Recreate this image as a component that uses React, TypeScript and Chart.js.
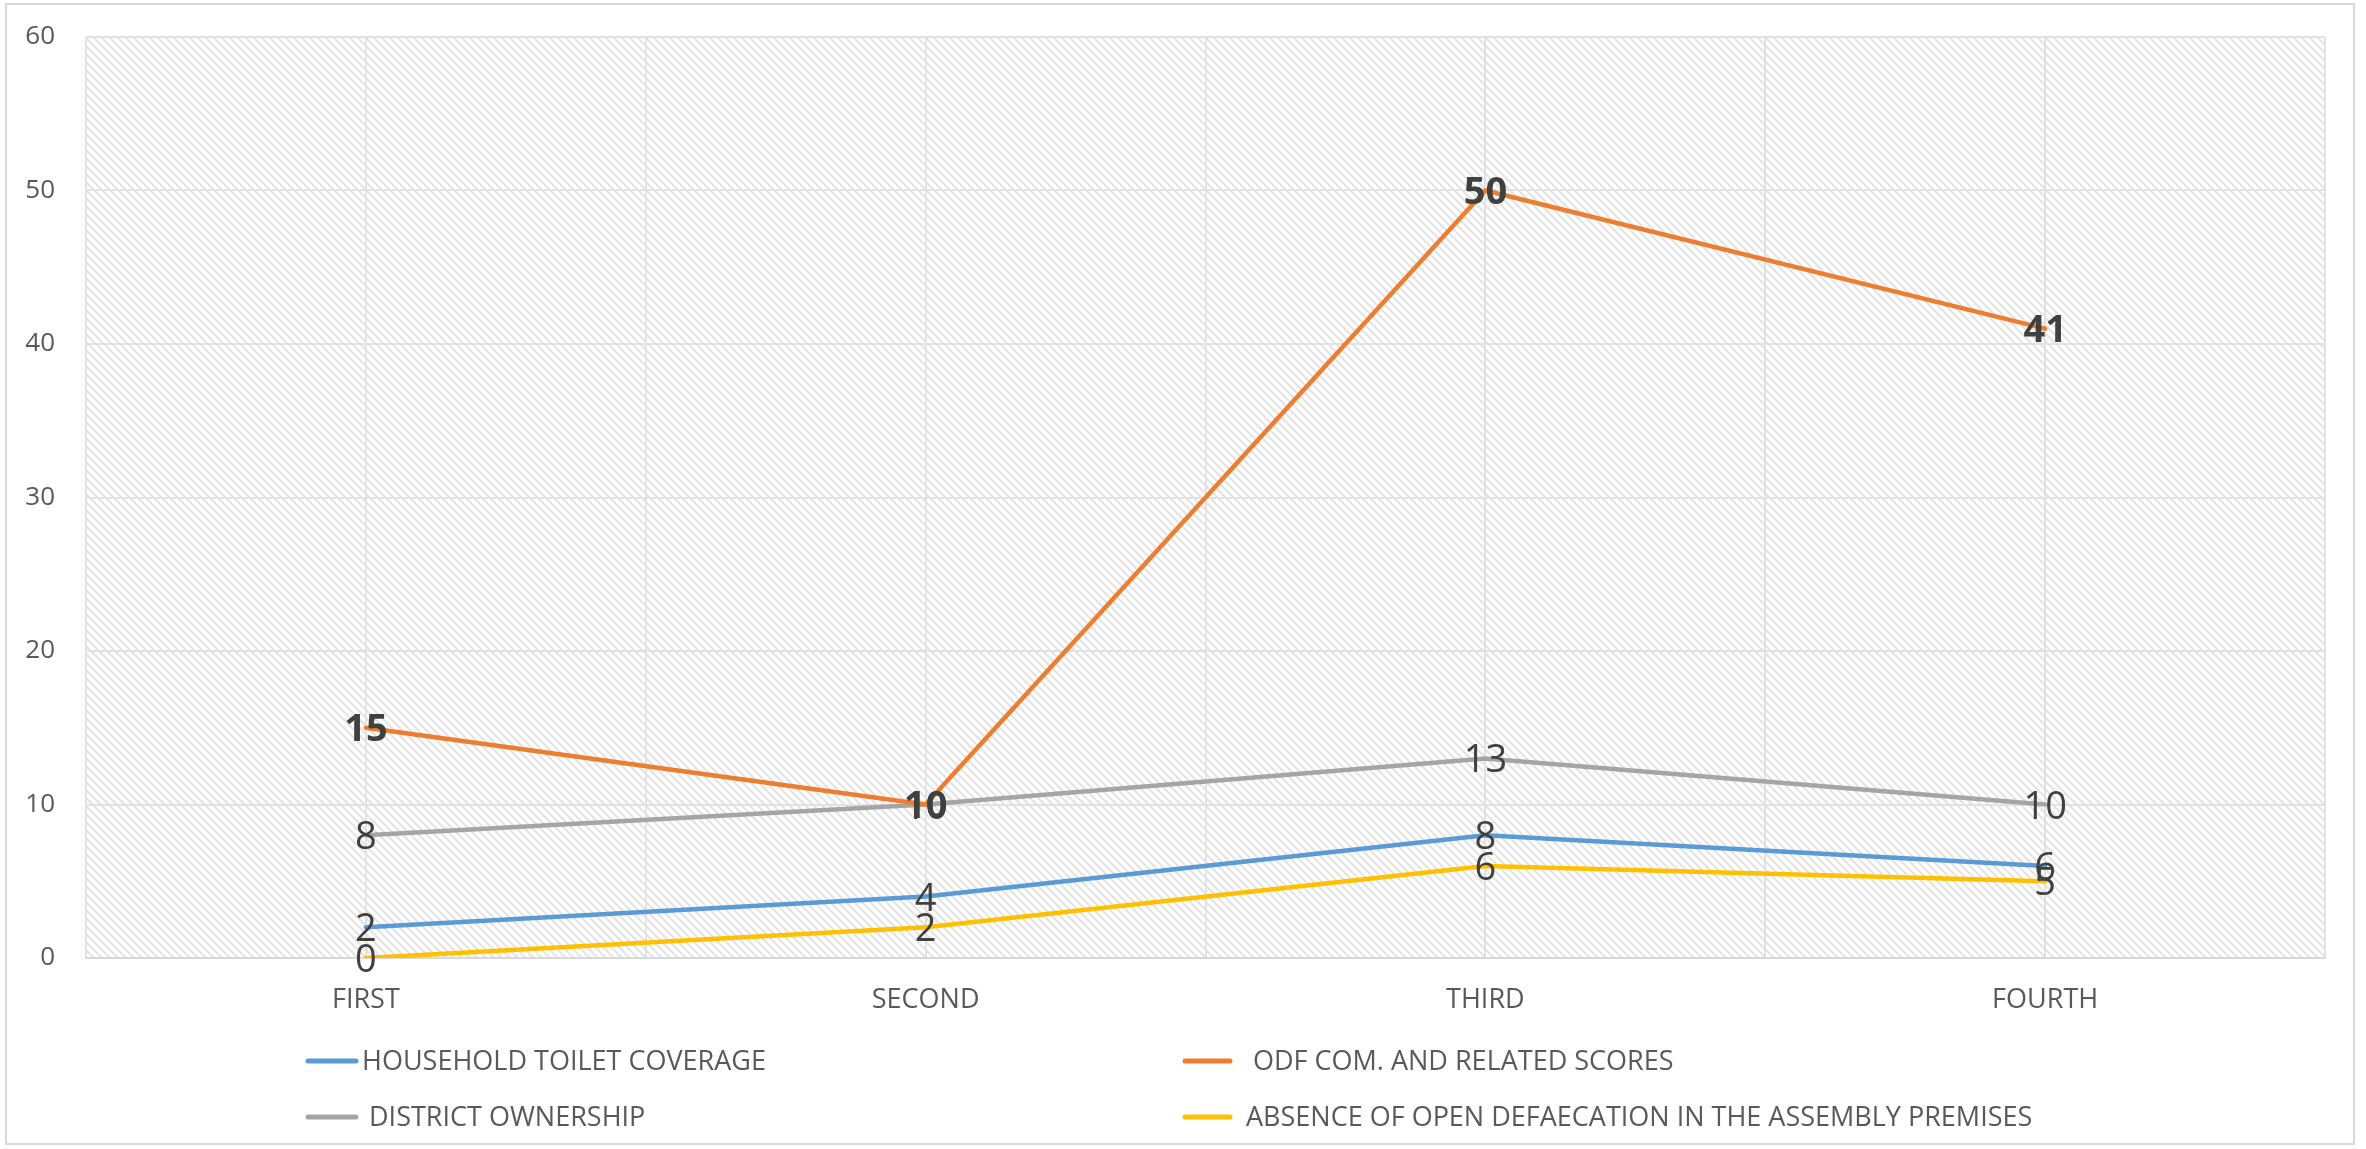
import React, { useEffect, useRef } from 'react';
import { Chart, registerables } from 'chart.js';

Chart.register(...registerables);

// ---- data ----
const CATEGORIES = ['FIRST', 'SECOND', 'THIRD', 'FOURTH'];
const HOUSEHOLD_TOILET = [2, 4, 8, 6];
const ODF_SCORES = [15, 10, 50, 41];
const DISTRICT_OWNERSHIP = [8, 10, 13, 10];
const ABSENCE_OPEN_DEF = [0, 2, 6, 5];
const SERIES_NAMES = [
  'HOUSEHOLD TOILET COVERAGE',
  ' ODF COM. AND RELATED SCORES',
  ' DISTRICT OWNERSHIP',
  'ABSENCE OF OPEN DEFAECATION IN THE ASSEMBLY PREMISES',
];
const Y_MIN = 0;
const Y_MAX = 60;
const Y_STEP = 10;

// ---- styles ----
const COLORS = ['#5B9BD5', '#ED7D31', '#A5A5A5', '#FFC000'];
const BOLD_LABELS = [false, true, false, false];
const GRID = '#e2e2e2';
const TEXT = '#595959';
const LABEL_TEXT = '#404040';
const FONT = "'Open Sans', 'Noto Sans', sans-serif";
const TOP_SPACE = 37;
// legend layout
const LEGEND_COLS = [
  { x: 308, len: 48, text: 362 },
  { x: 1185, len: 45, text: 1246 },
];
const LEGEND_ROWS = [1061, 1117];
// series index -> [col, row]
const LEGEND_SLOTS = [
  [0, 0],
  [1, 0],
  [0, 1],
  [1, 1],
];

const makeHatch = (): CanvasPattern | string => {
  const p = document.createElement('canvas');
  p.width = 8;
  p.height = 8;
  const c = p.getContext('2d');
  if (!c) return '#eee';
  c.fillStyle = '#ffffff';
  c.fillRect(0, 0, 8, 8);
  c.strokeStyle = '#e3e3e3';
  c.lineWidth = 2;
  c.beginPath();
  c.moveTo(-2, -2);
  c.lineTo(10, 10);
  c.moveTo(-2, 6);
  c.lineTo(2, 10);
  c.moveTo(6, -2);
  c.lineTo(10, 2);
  c.stroke();
  const pat = c.createPattern(p, 'repeat');
  return pat || '#eee';
};

const decorPlugin = {
  id: 'decor',
  beforeDraw(chart: any) {
    const { ctx, chartArea: a } = chart;
    ctx.save();
    ctx.fillStyle = '#ffffff';
    ctx.fillRect(0, 0, chart.width, chart.height);
    ctx.strokeStyle = '#d9d9d9';
    ctx.lineWidth = 2;
    ctx.strokeRect(6, 4, 2348, 1140);
    ctx.fillStyle = makeHatch();
    ctx.fillRect(a.left, a.top, a.right - a.left, a.bottom - a.top);
    ctx.restore();
  },
  afterDatasetsDraw(chart: any) {
    const ctx = chart.ctx;
    chart.data.datasets.forEach((ds: any, i: number) => {
      const meta = chart.getDatasetMeta(i);
      ctx.save();
      ctx.font = `${BOLD_LABELS[i] ? 'bold ' : ''}38px ${FONT}`;
      ctx.fillStyle = LABEL_TEXT;
      ctx.textAlign = 'center';
      ctx.textBaseline = 'alphabetic';
      meta.data.forEach((pt: any, j: number) => {
        const txt = String(ds.data[j]);
        const m = ctx.measureText(txt);
        const y = pt.y + (m.actualBoundingBoxAscent - m.actualBoundingBoxDescent) / 2;
        ctx.fillText(txt, pt.x, y);
      });
      ctx.restore();
    });
  },
  afterDraw(chart: any) {
    const ctx = chart.ctx;
    ctx.save();
    ctx.font = `27px ${FONT}`;
    ctx.textBaseline = 'middle';
    ctx.textAlign = 'left';
    chart.data.datasets.forEach((ds: any, i: number) => {
      const [c, r] = LEGEND_SLOTS[i];
      const col = LEGEND_COLS[c];
      const y = LEGEND_ROWS[r];
      ctx.strokeStyle = ds.borderColor;
      ctx.lineWidth = 5;
      ctx.lineCap = 'round';
      ctx.beginPath();
      ctx.moveTo(col.x, y);
      ctx.lineTo(col.x + col.len, y);
      ctx.stroke();
      ctx.fillStyle = TEXT;
      ctx.fillText(ds.label, col.text, y + 1);
    });
    ctx.restore();
  },
};

export default function App() {
  const ref = useRef<HTMLCanvasElement | null>(null);
  useEffect(() => {
    document.body.style.margin = '0';
    if (!ref.current) return;
    const seriesData = [HOUSEHOLD_TOILET, ODF_SCORES, DISTRICT_OWNERSHIP, ABSENCE_OPEN_DEF];
    const chart = new Chart(ref.current, {
      type: 'line',
      data: {
        labels: CATEGORIES,
        datasets: seriesData.map((d, i) => ({
          label: SERIES_NAMES[i],
          data: d,
          borderColor: COLORS[i],
          backgroundColor: COLORS[i],
          borderWidth: 4.5,
          pointRadius: 0,
          pointHoverRadius: 0,
          tension: 0,
          borderCapStyle: 'round' as const,
          borderJoinStyle: 'round' as const,
          fill: false,
        })),
      },
      options: {
        animation: false,
        responsive: false,
        devicePixelRatio: 1,
        layout: { padding: { left: 23, right: 41, top: 0, bottom: 121 } },
        plugins: {
          legend: { display: false },
          tooltip: { enabled: false },
        },
        scales: {
          x: {
            type: 'category',
            offset: true,
            grid: { offset: true, color: GRID, lineWidth: 2, drawTicks: false },
            border: { display: true, color: '#d9d9d9', width: 2 },
            ticks: { color: TEXT, padding: 26, font: { family: FONT, size: 27 } },
            afterFit: (s: any) => {
              s.height = 70;
            },
          },
          x2: {
            type: 'category',
            position: 'top',
            labels: CATEGORIES,
            offset: true,
            grid: { offset: false, color: GRID, lineWidth: 2, drawTicks: false },
            border: { display: false },
            ticks: { display: false },
            afterFit: (s: any) => {
              s.height = TOP_SPACE;
            },
          },
          y: {
            min: Y_MIN,
            max: Y_MAX,
            ticks: { stepSize: Y_STEP, color: TEXT, padding: 31, font: { family: FONT, size: 26 } },
            grid: { color: GRID, lineWidth: 2, drawTicks: false },
            border: { display: false },
            afterFit: (s: any) => {
              s.width = 63;
              s.paddingTop = 0;
              s.paddingBottom = 0;
            },
          },
        },
      },
      plugins: [decorPlugin],
    });
    return () => chart.destroy();
  }, []);
  return (
    <div style={{ width: 2366, height: 1149 }}>
      <canvas ref={ref} width={2366} height={1149} style={{ display: 'block' }} />
    </div>
  );
}
